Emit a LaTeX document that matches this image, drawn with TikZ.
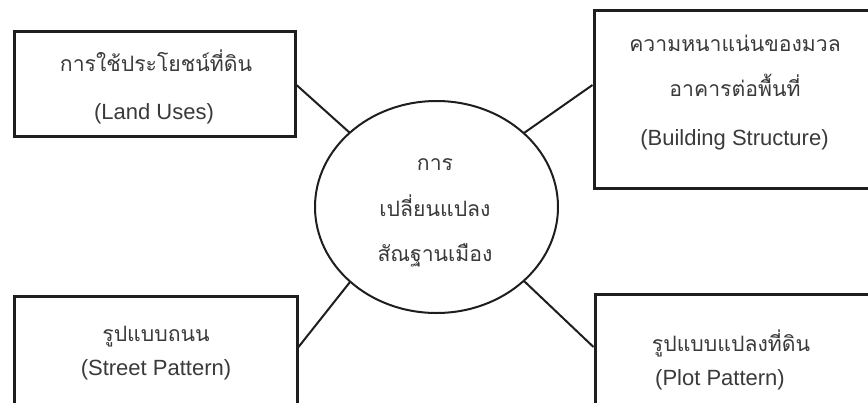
\documentclass[tikz,border=0pt]{standalone}
\usepackage{fontspec}
\setmainfont{Liberation Sans}
\newfontfamily\thaifont[Script=Thai]{Loma}
\usetikzlibrary{shapes.geometric}
\definecolor{ink}{HTML}{1E1E1E}
\definecolor{txt}{HTML}{3A3A3A}
\tikzset{
  boxnode/.style={draw=ink,line width=3pt,rectangle,inner sep=0pt},
  thai/.style={text=txt,font=\thaifont\fontsize{21.2}{25}\selectfont,inner sep=0pt,anchor=base},
  eng/.style={text=txt,font=\fontsize{22}{26}\selectfont,inner sep=0pt,anchor=base},
  link/.style={draw=ink,line width=2pt},
}
\begin{document}
\begin{tikzpicture}[x=1pt,y=-1pt]
\useasboundingbox[fill=white] (0,0) rectangle (868,402);
% boxes
\node[boxnode,minimum width=281pt,minimum height=105pt] (lu) at (154.5,83.5) {};
\node[boxnode,minimum width=286pt,minimum height=178pt] (bs) at (737,99) {};
\node[boxnode,minimum width=283pt,minimum height=114pt] (sp) at (155.5,353) {};
\node[boxnode,minimum width=285pt,minimum height=116pt] (pp) at (737.5,352) {};
% ellipse
\node[draw=ink,line width=2pt,ellipse,minimum width=243pt,minimum height=212pt,inner sep=0pt] (ct) at (436.5,207) {};
% texts
\node[thai] (lu1) at (156,71) {การใช้ประโยชน์ที่ดิน};
\node[eng] (lu2) at (154,119) {(Land Uses)};
\node[thai] (bs1) at (735,51) {ความหนาแน่นของมวล};
\node[thai] (bs2) at (735,96) {อาคารต่อพื้นที่};
\node[eng] (bs3) at (734.5,145) {(Building Structure)};
\node[thai] (sp1) at (156,341) {รูปแบบถนน};
\node[eng] (sp2) at (156,375) {(Street Pattern)};
\node[thai] (pp1) at (731,351) {รูปแบบแปลงที่ดิน};
\node[eng] (pp2) at (720,385) {(Plot Pattern)};
\node[thai] (ct1) at (435,170) {การ};
\node[thai] (ct2) at (435,216) {เปลี่ยนแปลง};
\node[thai] (ct3) at (435,261) {สัณฐานเมือง};
% connector points on the ellipse
\coordinate (e1) at (350,133);
\coordinate (e2) at (524,133);
\coordinate (e3) at (350,282);
\coordinate (e4) at (524,281);
\draw[link] ([yshift=-1.5pt]lu.east) -- (e1);
\draw[link] ([yshift=14pt]bs.west) -- (e2);
\draw[link] ([yshift=6pt]sp.east) -- (e3);
\draw[link] ([yshift=5pt]pp.west) -- (e4);
\end{tikzpicture}
\end{document}
